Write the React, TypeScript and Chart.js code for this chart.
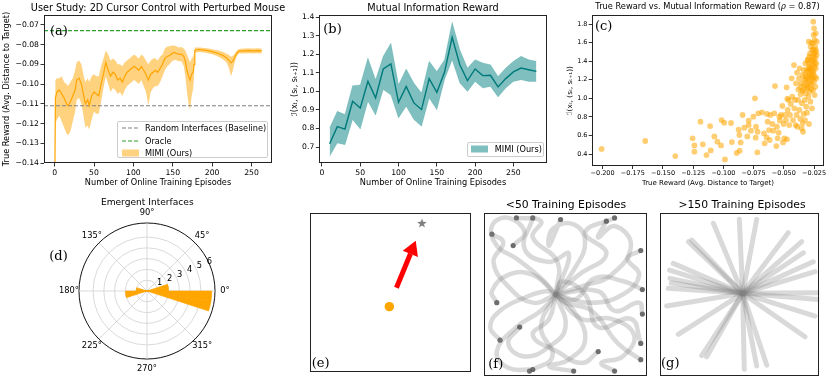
import React, { useEffect, useRef } from 'react';
import { Chart, registerables } from 'chart.js';

Chart.register(...registerables);
Chart.defaults.font.family = "'DejaVu Sans', 'Noto Sans', sans-serif";
Chart.defaults.color = '#000';

// ---------------- (a) User study ----------------
const aEpisodes = [0, 1, 3, 6, 9, 12, 15, 17, 20, 23, 26, 28, 31, 34, 37, 39, 42, 44, 47, 50, 53, 56, 59, 62, 65, 68, 71, 74, 77, 80, 83, 86, 89, 92, 95, 98, 101, 104, 107, 110, 113, 116, 119, 122, 125, 128, 131, 134, 137, 140, 143, 146, 149, 152, 155, 158, 161, 164, 166, 168, 170, 172, 174, 176, 177, 178, 180, 184, 190, 196, 202, 208, 214, 218, 221, 224, 226, 228, 231, 234, 240, 246, 252, 258, 263];
const aMean = [-0.160, -0.107, -0.104, -0.103, -0.105, -0.107, -0.110, -0.111, -0.109, -0.106, -0.103, -0.098, -0.097, -0.100, -0.106, -0.110, -0.108, -0.111, -0.106, -0.104, -0.105, -0.106, -0.100, -0.095, -0.089, -0.093, -0.096, -0.094, -0.095, -0.098, -0.097, -0.099, -0.096, -0.094, -0.093, -0.092, -0.091, -0.092, -0.093, -0.091, -0.093, -0.095, -0.098, -0.095, -0.094, -0.093, -0.094, -0.092, -0.090, -0.087, -0.086, -0.0855, -0.0845, -0.084, -0.0845, -0.085, -0.0848, -0.086, -0.0885, -0.093, -0.096, -0.098, -0.095, -0.0936, -0.090, -0.0828, -0.0826, -0.0825, -0.0828, -0.0832, -0.0838, -0.0845, -0.0856, -0.0866, -0.0878, -0.0893, -0.0885, -0.087, -0.0845, -0.0833, -0.0832, -0.0831, -0.0832, -0.0831, -0.0832];
const aUpper = [-0.160, -0.098, -0.097, -0.097, -0.096, -0.099, -0.100, -0.101, -0.099, -0.097, -0.093, -0.089, -0.088, -0.090, -0.096, -0.099, -0.097, -0.099, -0.096, -0.095, -0.096, -0.096, -0.091, -0.087, -0.083, -0.085, -0.088, -0.087, -0.088, -0.090, -0.090, -0.091, -0.089, -0.088, -0.087, -0.086, -0.085, -0.086, -0.087, -0.085, -0.086, -0.088, -0.090, -0.088, -0.087, -0.087, -0.088, -0.086, -0.085, -0.082, -0.081, -0.0808, -0.0805, -0.0805, -0.081, -0.0815, -0.0812, -0.082, -0.083, -0.085, -0.087, -0.089, -0.087, -0.086, -0.084, -0.0815, -0.0815, -0.0815, -0.0817, -0.082, -0.0825, -0.083, -0.0838, -0.0845, -0.0852, -0.0862, -0.0858, -0.085, -0.0832, -0.0822, -0.082, -0.0819, -0.082, -0.0819, -0.082];
const aLower = [-0.160, -0.120, -0.118, -0.116, -0.119, -0.122, -0.125, -0.126, -0.124, -0.119, -0.114, -0.108, -0.107, -0.110, -0.117, -0.122, -0.121, -0.123, -0.118, -0.114, -0.115, -0.115, -0.109, -0.102, -0.096, -0.100, -0.104, -0.102, -0.103, -0.105, -0.104, -0.106, -0.103, -0.101, -0.100, -0.099, -0.098, -0.099, -0.100, -0.098, -0.101, -0.104, -0.111, -0.104, -0.102, -0.101, -0.101, -0.099, -0.096, -0.093, -0.091, -0.090, -0.0885, -0.0878, -0.088, -0.0885, -0.0885, -0.091, -0.096, -0.104, -0.110, -0.113, -0.106, -0.102, -0.097, -0.0842, -0.084, -0.0838, -0.084, -0.0845, -0.0852, -0.0862, -0.0876, -0.089, -0.0915, -0.096, -0.0935, -0.090, -0.086, -0.0845, -0.0845, -0.0844, -0.0845, -0.0844, -0.0845];
const aRandomBaseline = -0.111;
const aOracle = -0.0729;
const aXRange = [-13.5, 276];
const aYRange = [-0.14, -0.065];
const aXTicks = [0, 50, 100, 150, 200, 250];
const aYTicks = [-0.14, -0.13, -0.12, -0.11, -0.10, -0.09, -0.08, -0.07];

// ---------------- (b) Mutual information reward ----------------
const bEpisodes = [10, 20, 30, 40, 50, 60, 70, 80, 90, 100, 110, 120, 130, 140, 150, 160, 170, 180, 190, 200, 210, 220, 230, 240, 250, 260, 270, 280];
const bMean = [0.718, 0.81, 0.797, 0.947, 0.911, 1.055, 0.965, 1.121, 1.148, 0.941, 1.027, 0.938, 0.902, 1.069, 0.995, 1.103, 1.292, 1.144, 1.058, 1.121, 1.085, 1.087, 1.024, 1.069, 1.105, 1.126, 1.117, 1.108];
const bUpper = [0.803, 0.893, 0.875, 1.031, 1.035, 1.18, 1.063, 1.19, 1.26, 1.036, 1.121, 1.045, 0.991, 1.162, 1.108, 1.171, 1.373, 1.225, 1.126, 1.171, 1.153, 1.144, 1.081, 1.126, 1.162, 1.19, 1.171, 1.162];
const bLower = [0.650, 0.722, 0.713, 0.848, 0.797, 0.947, 0.873, 1.01, 0.98, 0.857, 0.92, 0.848, 0.812, 0.964, 0.901, 1.063, 1.171, 1.046, 1.0, 1.054, 1.018, 1.027, 0.97, 1.018, 1.054, 1.063, 1.054, 1.054];
const bXRange = [-3.5, 293.5];
const bYRange = [0.614, 1.412];
const bXTicks = [0, 50, 100, 150, 200, 250];
const bYTicks = [0.7, 0.8, 0.9, 1.0, 1.1, 1.2, 1.3, 1.4];

// ---------------- (c) True reward vs MI reward ----------------
const cTrueReward = [-0.2008, -0.1647, -0.1398, -0.1255, -0.124, -0.124, -0.119, -0.117, -0.114, -0.111, -0.1105, -0.1075, -0.105, -0.102, -0.1015, -0.0993, -0.0987, -0.0937, -0.093, -0.089, -0.0874, -0.0868, -0.0866, -0.0857, -0.0841, -0.0827, -0.0802, -0.0791, -0.0791, -0.0772, -0.0752, -0.0739, -0.0733, -0.073, -0.0719, -0.0717, -0.0711, -0.068, -0.0664, -0.0659, -0.0642, -0.0639, -0.0634, -0.0623, -0.0617, -0.0612, -0.0595, -0.0587, -0.0579, -0.0573, -0.0562, -0.0557, -0.0551, -0.0543, -0.0537, -0.0532, -0.0523, -0.0512, -0.0507, -0.0501, -0.0496, -0.049, -0.0482, -0.0477, -0.0474, -0.0471, -0.0468, -0.046, -0.0455, -0.0449, -0.0443, -0.0435, -0.043, -0.0424, -0.0416, -0.0413, -0.0408, -0.0402, -0.04, -0.0394, -0.0391, -0.0388, -0.0383, -0.038, -0.0374, -0.0372, -0.0369, -0.0363, -0.0361, -0.0358, -0.0352, -0.035, -0.0347, -0.0344, -0.0341, -0.0339, -0.0336, -0.0333, -0.033, -0.0327, -0.0325, -0.0322, -0.0319, -0.0316, -0.0314, -0.0311, -0.0308, -0.0305, -0.0303, -0.03, -0.0297, -0.0294, -0.0294, -0.0292, -0.0289, -0.0286, -0.0283, -0.028, -0.028, -0.0278, -0.0275, -0.0272, -0.0269, -0.0267, -0.0267, -0.0264, -0.0261, -0.0261, -0.0258, -0.0258, -0.0256, -0.0256, -0.0253, -0.0253, -0.025, -0.025, -0.0247, -0.0247, -0.0245, -0.0245, -0.0242, -0.0242, -0.0239, -0.0239, -0.0236, -0.0236, -0.0234, -0.0231, -0.0231, -0.0228, -0.0228, -0.0297, -0.0289, -0.0278, -0.0269, -0.0261, -0.025, -0.0283, -0.0275, -0.0286, -0.0297, -0.0305, -0.0319, -0.0333, -0.0347, -0.0361, -0.0244, -0.0236, -0.0253, -0.0258, -0.0264, -0.0272, -0.0283, -0.0294, -0.03, -0.0311, -0.0322];
const cMIReward = [0.454, 0.54, 0.378, 0.569, 0.493, 0.425, 0.748, 0.504, 0.389, 0.701, 0.439, 0.59, 0.533, 0.493, 0.766, 0.737, 0.342, 0.734, 0.529, 0.411, 0.662, 0.605, 0.436, 0.525, 0.82, 0.684, 0.59, 0.759, 0.712, 0.651, 0.802, 1.0, 0.576, 0.694, 0.418, 0.64, 0.838, 0.849, 0.622, 0.515, 0.579, 0.831, 0.748, 0.658, 0.551, 0.82, 0.723, 0.651, 0.838, 1.132, 0.486, 0.694, 0.569, 0.629, 0.802, 0.759, 0.82, 0.917, 0.525, 0.723, 0.569, 0.82, 0.766, 1.118, 0.558, 0.996, 0.874, 0.982, 0.712, 0.82, 0.938, 1.215, 1.017, 0.766, 1.358, 0.892, 0.982, 0.712, 1.161, 0.82, 1.276, 0.694, 0.982, 1.096, 1.215, 0.874, 1.323, 0.777, 1.043, 1.161, 0.676, 0.946, 1.251, 0.73, 0.64, 1.089, 0.831, 1.305, 1.197, 0.982, 0.766, 1.376, 1.053, 1.143, 0.91, 1.233, 0.845, 1.107, 1.412, 1.287, 1.017, 1.61, 1.179, 0.723, 1.341, 1.071, 1.484, 1.233, 0.964, 1.556, 1.394, 1.143, 1.305, 1.448, 0.892, 1.197, 1.592, 1.359, 1.089, 1.52, 1.825, 1.269, 1.682, 1.412, 1.753, 1.179, 1.484, 1.341, 1.628, 1.035, 1.556, 1.233, 1.43, 1.125, 1.7, 1.323, 1.502, 1.376, 1.215, 1.61, 1.466, 1.38, 1.45, 1.33, 1.25, 1.41, 1.46, 1.16, 1.1, 1.25, 1.21, 1.12, 1.2, 1.14, 1.08, 1.12, 1.38, 1.52, 1.29, 1.22, 1.52, 1.6, 1.3, 1.32, 1.42, 1.3, 1.25];
const cXRange = [-0.209, -0.0165];
const cYRange = [0.271, 1.897];
const cXTicks = [-0.2, -0.175, -0.15, -0.125, -0.1, -0.075, -0.05, -0.025];
const cYTicks = [0.4, 0.6, 0.8, 1.0, 1.2, 1.4, 1.6, 1.8];

// ---------------- (d) Emergent interfaces (rose) ----------------
const dBinWidthDeg = 18;
const dBinCounts = [2, 0, 0, 0, 0, 0, 0, 0, 0, 1, 2, 0, 0, 0, 0, 0, 0, 0, 0, 6];
const dSegDeg = 9;
const dRMax = 6.3;
const dRadialTicks = [1, 2, 3, 4, 5, 6];
const dAngleTicks = [0, 45, 90, 135, 180, 225, 270, 315];

// ---------------- (e) task sketch ----------------
const eTarget = { x: 0.698, y: 0.937 };
const eCursor = { x: 0.496, y: 0.409 };
const eArrowStart = { x: 0.54, y: 0.528 };
const eArrowShaftEnd = { x: 0.627, y: 0.743 };
const eArrowHead = { x: 0.6375, y: 0.77 };
const eArrowAngleDeg = 22.5;

// ---------------- (f) trajectories <50 episodes ----------------
const fPaths = [
  [[0.44, 0.5], [0.35, 0.6], [0.2, 0.72], [0.08, 0.8], [0.05, 0.92], [0.15, 0.97], [0.25, 0.88], [0.18, 0.8]],
  [[0.44, 0.5], [0.3, 0.45], [0.15, 0.55], [0.06, 0.7], [0.12, 0.82], [0.05, 0.87]],
  [[0.44, 0.5], [0.55, 0.65], [0.62, 0.82], [0.55, 0.93], [0.42, 0.9], [0.4, 0.8], [0.47, 0.96]],
  [[0.44, 0.5], [0.6, 0.55], [0.78, 0.62], [0.9, 0.8], [0.8, 0.92], [0.7, 0.85], [0.75, 0.95]],
  [[0.44, 0.5], [0.65, 0.45], [0.85, 0.5], [0.95, 0.62], [0.88, 0.72], [0.96, 0.77]],
  [[0.44, 0.5], [0.6, 0.35], [0.78, 0.35], [0.92, 0.25], [0.85, 0.12], [0.72, 0.08], [0.8, 0.03]],
  [[0.44, 0.5], [0.5, 0.3], [0.4, 0.18], [0.25, 0.12], [0.15, 0.2], [0.22, 0.3]],
  [[0.44, 0.5], [0.35, 0.4], [0.2, 0.3], [0.08, 0.15], [0.15, 0.05], [0.3, 0.04]],
  [[0.44, 0.5], [0.55, 0.4], [0.62, 0.22], [0.52, 0.1], [0.4, 0.06], [0.55, 0.03]],
  [[0.44, 0.5], [0.45, 0.7], [0.3, 0.85], [0.35, 0.95], [0.2, 0.97]],
  [[0.44, 0.5], [0.7, 0.52], [0.8, 0.4], [0.95, 0.45], [0.97, 0.38]],
  [[0.44, 0.5], [0.38, 0.52], [0.25, 0.48], [0.1, 0.4], [0.04, 0.3], [0.1, 0.22]],
  [[0.44, 0.5], [0.58, 0.62], [0.75, 0.75], [0.62, 0.88], [0.8, 0.97]],
  [[0.44, 0.5], [0.4, 0.35], [0.3, 0.25], [0.45, 0.15], [0.6, 0.08], [0.7, 0.15]],
  [[0.44, 0.5], [0.48, 0.58], [0.62, 0.5], [0.7, 0.3], [0.9, 0.35], [0.96, 0.2]],
  [[0.44, 0.5], [0.3, 0.62], [0.15, 0.62], [0.05, 0.52], [0.08, 0.45]],
  [[0.44, 0.5], [0.52, 0.75], [0.4, 0.7], [0.25, 0.78], [0.3, 0.97]],
  [[0.44, 0.5], [0.35, 0.3], [0.42, 0.12], [0.28, 0.03]],
  [[0.44, 0.5], [0.56, 0.47], [0.68, 0.6], [0.86, 0.58], [0.97, 0.53]],
  [[0.44, 0.5], [0.5, 0.45], [0.66, 0.4], [0.82, 0.2], [0.96, 0.1]],
];

// ---------------- (g) trajectories >150 episodes ----------------
const gStart = [0.519, 0.507];
const gEnds = [
  [0.498, 0.961], [0.607, 0.961], [0.335, 0.937], [0.805, 0.879], [0.89, 0.824], [0.9, 0.756],
  [0.962, 0.701], [0.973, 0.64], [0.994, 0.511], [0.994, 0.47], [0.973, 0.368], [0.91, 0.241],
  [0.67, 0.067], [0.607, 0.061], [0.529, 0.041], [0.293, 0.118], [0.262, 0.125], [0.115, 0.256],
  [0.042, 0.429], [0.052, 0.538], [0.063, 0.599], [0.083, 0.691], [0.178, 0.824], [0.199, 0.834],
  [0.06, 0.65], [0.07, 0.57],
];

// ---------------- helpers ----------------
const fmt = (v: number, d: number) => v.toFixed(d).replace('-', '\u2212');

const framePlugin = {
  id: 'frame',
  afterDatasetsDraw(chart: any) {
    const { ctx, chartArea: a } = chart;
    ctx.save();
    ctx.strokeStyle = '#222';
    ctx.lineWidth = 1;
    const l = Math.round(a.left) + 0.5, t = Math.round(a.top) + 0.5;
    const r = Math.round(a.right) - 0.5, b = Math.round(a.bottom) - 0.5;
    ctx.strokeRect(l, t, r - l, b - t);
    ctx.restore();
  },
};

function xAxis(o: any) {
  return {
    type: 'linear', position: 'bottom', min: o.min, max: o.max,
    afterBuildTicks: (s: any) => { s.ticks = o.ticks.map((value: number) => ({ value })); },
    afterFit: (s: any) => { s.height = o.size; },
    ticks: { autoSkip: false, maxRotation: 0, padding: o.tickPad, font: { size: o.tickFont }, color: '#000', callback: (v: any) => fmt(Number(v), o.dec) },
    grid: { display: true, drawOnChartArea: false, drawTicks: true, tickLength: o.tickLen, tickColor: '#000', tickWidth: 0.8 },
    border: { display: false },
    title: { display: true, text: o.title, color: '#000', font: { size: o.titleFont }, padding: { top: 0, bottom: o.titlePad } },
  };
}
function yAxis(o: any) {
  return {
    type: 'linear', position: 'left', min: o.min, max: o.max,
    afterBuildTicks: (s: any) => { s.ticks = o.ticks.map((value: number) => ({ value })); },
    afterFit: (s: any) => { s.width = o.size; },
    ticks: { autoSkip: false, padding: o.tickPad, font: { size: o.tickFont }, color: '#000', callback: (v: any) => fmt(Number(v), o.dec) },
    grid: { display: true, drawOnChartArea: false, drawTicks: true, tickLength: o.tickLen, tickColor: '#000', tickWidth: 0.8 },
    border: { display: false },
    title: { display: true, text: o.title, color: '#000', font: { size: o.titleFont }, padding: { top: o.titlePad, bottom: 0 } },
  };
}
const baseOpts = { responsive: false, animation: false, events: [] as any[] };
const noPlug = { legend: { display: false }, tooltip: { enabled: false } };

function makeA() {
  const pts = (ys: number[]) => aEpisodes.map((x, i) => ({ x, y: ys[i] }));
  const hline = (y: number) => [{ x: aXRange[0], y }, { x: aXRange[1], y }];
  return {
    type: 'line',
    data: {
      datasets: [
        { data: pts(aMean), borderColor: '#ffa500', borderWidth: 1.2, pointRadius: 0, fill: false },
        { data: hline(aRandomBaseline), borderColor: '#808080', borderDash: [4, 2], borderWidth: 1.2, pointRadius: 0, fill: false },
        { data: hline(aOracle), borderColor: '#2ca02c', borderDash: [4, 2], borderWidth: 1.2, pointRadius: 0, fill: false },
        { data: pts(aUpper), borderColor: 'rgba(0,0,0,0)', borderWidth: 0.01, pointRadius: 0, fill: '+1', backgroundColor: 'rgba(255,165,0,0.5)' },
        { data: pts(aLower), borderColor: 'rgba(0,0,0,0)', borderWidth: 0.01, pointRadius: 0, fill: false },
      ],
    },
    options: {
      ...baseOpts,
      layout: { padding: { top: 15, right: 5, left: 0, bottom: 0 } },
      plugins: noPlug,
      scales: {
        x: xAxis({ min: aXRange[0], max: aXRange[1], ticks: aXTicks, dec: 0, size: 37, tickPad: 1.6, tickLen: 3.5, tickFont: 7.7, title: 'Number of Online Training Episodes', titleFont: 8.2, titlePad: 12.4 }),
        y: yAxis({ min: aYRange[0], max: aYRange[1], ticks: aYTicks, dec: 2, size: 44, tickPad: 1.5, tickLen: 3.5, tickFont: 7.7, title: 'True Reward (Avg. Distance to Target)', titleFont: 8.2, titlePad: 1.8 }),
      },
    },
    plugins: [framePlugin],
  };
}

function makeB() {
  const pts = (ys: number[]) => bEpisodes.map((x, i) => ({ x, y: ys[i] }));
  return {
    type: 'line',
    data: {
      datasets: [
        { data: pts(bMean), borderColor: '#007a7a', borderWidth: 1.4, pointRadius: 0, fill: false, tension: 0 },
        { data: pts(bUpper), borderColor: 'rgba(0,128,128,0.3)', borderWidth: 0.6, pointRadius: 0, fill: '+1', backgroundColor: 'rgba(0,128,128,0.5)' },
        { data: pts(bLower), borderColor: 'rgba(0,128,128,0.3)', borderWidth: 0.6, pointRadius: 0, fill: false },
      ],
    },
    options: {
      ...baseOpts,
      layout: { padding: { top: 15, right: 5.3, left: 0, bottom: 0 } },
      plugins: noPlug,
      scales: {
        x: xAxis({ min: bXRange[0], max: bXRange[1], ticks: bXTicks, dec: 0, size: 37, tickPad: 1.6, tickLen: 3.5, tickFont: 7.7, title: 'Number of Online Training Episodes', titleFont: 8.2, titlePad: 12.4 }),
        y: yAxis({ min: bYRange[0], max: bYRange[1], ticks: bYTicks, dec: 1, size: 46.3, tickPad: 1.5, tickLen: 3.5, tickFont: 7.7, title: '\u2110(x\u209C, (s\u209C, s\u209C\u208A\u2081))', titleFont: 8, titlePad: 17.2 }),
      },
    },
    plugins: [framePlugin],
  };
}

function makeC() {
  return {
    type: 'scatter',
    data: {
      datasets: [{
        data: cTrueReward.map((x, i) => ({ x, y: cMIReward[i] })),
        pointRadius: 2.9, pointBackgroundColor: 'rgba(255,165,0,0.55)', pointBorderWidth: 0, pointBorderColor: 'rgba(0,0,0,0)',
      }],
    },
    options: {
      ...baseOpts,
      layout: { padding: { top: 15, right: 5.7, left: 0, bottom: 0 } },
      plugins: noPlug,
      scales: {
        x: xAxis({ min: cXRange[0], max: cXRange[1], ticks: cXTicks, dec: 3, size: 34, tickPad: 0.8, tickLen: 3, tickFont: 6.5, title: 'True Reward (Avg. Distance to Target)', titleFont: 7, titlePad: 12.5 }),
        y: yAxis({ min: cYRange[0], max: cYRange[1], ticks: cYTicks, dec: 1, size: 31.7, tickPad: 1.2, tickLen: 3, tickFont: 6.5, title: '\u2110(x\u209C, (s\u209C, s\u209C\u208A\u2081))', titleFont: 7.2, titlePad: 5.6 }),
      },
    },
    plugins: [framePlugin],
  };
}

const polarLabelsPlugin = {
  id: 'polarLabels',
  afterDraw(chart: any) {
    const s = chart.scales.r;
    const ctx = chart.ctx;
    ctx.save();
    ctx.fillStyle = '#000';
    ctx.font = "8.3px 'DejaVu Sans', sans-serif";
    ctx.textAlign = 'center';
    ctx.textBaseline = 'middle';
    dAngleTicks.forEach((deg) => {
      const idx = ((360 - deg) % 360) / dSegDeg;
      const p = s.getPointPosition(idx, s.drawingArea + 10);
      ctx.fillText(`${deg}\u00B0`, p.x, p.y);
    });
    ctx.textAlign = 'left';
    ctx.textBaseline = 'bottom';
    const a = (22.5 * Math.PI) / 180;
    dRadialTicks.forEach((v) => {
      const d = s.getDistanceFromCenterForValue(v);
      ctx.fillText(String(v), s.xCenter + d * Math.cos(a), s.yCenter - d * Math.sin(a));
    });
    ctx.restore();
  },
};

function makeD() {
  const nSeg = 360 / dSegDeg;
  const seg = Array.from({ length: nSeg }, (_, i) => i);
  const segData = seg.map((i) => dBinCounts[Math.floor((360 - dSegDeg * i - dSegDeg / 2) / dBinWidthDeg)]);
  const labels = seg.map((i) => `${(360 - dSegDeg * i) % 360}\u00B0`);
  return {
    type: 'polarArea',
    data: {
      labels,
      datasets: [{ data: segData, backgroundColor: '#ffa500', borderColor: '#ffa500', borderWidth: (c: any) => (c.raw > 0 ? 0.6 : 0) }],
    },
    options: {
      ...baseOpts,
      layout: { padding: { left: 39, top: 23, right: 215 - 39 - 137, bottom: 181 - 23 - 137 } },
      plugins: noPlug,
      scales: {
        r: {
          min: 0, max: dRMax, startAngle: 90,
          ticks: { display: false, stepSize: 1 },
          grid: {
            circular: true,
            color: (c: any) => (c.tick && c.tick.value >= dRMax - 1e-6 ? '#111' : '#d0d0d0'),
            lineWidth: (c: any) => (c.tick && c.tick.value >= dRMax - 1e-6 ? 1 : 0.8),
          },
          angleLines: { display: true, color: '#d0d0d0', lineWidth: (c: any) => (c.index % 5 === 0 ? 0.8 : 0) },
          pointLabels: { display: false },
        },
      },
    },
    plugins: [polarLabelsPlugin],
  };
}

function makeStar(size: number, color: string) {
  const c = document.createElement('canvas');
  c.width = size; c.height = size;
  const g = c.getContext('2d')!;
  const R = size / 2, r = R * 0.42;
  g.beginPath();
  for (let k = 0; k < 10; k++) {
    const rad = k % 2 === 0 ? R : r;
    const ang = -Math.PI / 2 + (k * Math.PI) / 5;
    const px = R + rad * Math.cos(ang), py = R + 0.5 + rad * Math.sin(ang);
    if (k === 0) g.moveTo(px, py); else g.lineTo(px, py);
  }
  g.closePath();
  g.fillStyle = color;
  g.fill();
  return c;
}

const hiddenScales = {
  x: { type: 'linear', min: 0, max: 1, display: false },
  y: { type: 'linear', min: 0, max: 1, display: false },
};

function makeE() {
  const star = makeStar(10, '#7f7f7f');
  return {
    type: 'scatter',
    data: {
      datasets: [
        { data: [eTarget], pointStyle: star, pointRadius: 5 },
        { data: [eArrowHead], pointStyle: 'triangle', pointRotation: eArrowAngleDeg, pointRadius: 9.5, pointBackgroundColor: '#ff0000', pointBorderWidth: 0, pointBorderColor: 'rgba(0,0,0,0)' },
        { data: [eArrowStart, eArrowShaftEnd], showLine: true, borderColor: '#ff0000', borderWidth: 5, borderCapStyle: 'butt', pointRadius: 0 },
        { data: [eCursor], pointRadius: 4.7, pointBackgroundColor: '#ffa500', pointBorderWidth: 0, pointBorderColor: 'rgba(0,0,0,0)' },
      ],
    },
    options: {
      ...baseOpts,
      layout: { padding: { left: 6, top: 13, right: 6, bottom: 5 } },
      plugins: noPlug,
      scales: hiddenScales,
    },
    plugins: [framePlugin],
  };
}

function makeF() {
  return {
    type: 'scatter',
    data: {
      datasets: fPaths.map((p) => ({
        data: p.map(([x, y]) => ({ x, y })),
        showLine: true, tension: 0.45,
        borderColor: 'rgba(128,128,128,0.3)', borderWidth: 4.5, borderCapStyle: 'round',
        pointRadius: p.map((_, i) => (i === p.length - 1 ? 2.6 : 0)),
        pointBackgroundColor: 'rgba(90,90,90,0.85)', pointBorderWidth: 0, pointBorderColor: 'rgba(0,0,0,0)',
      })),
    },
    options: {
      ...baseOpts,
      layout: { padding: { left: 5.7, top: 13, right: 5.7, bottom: 5 } },
      plugins: noPlug,
      scales: hiddenScales,
    },
    plugins: [framePlugin],
  };
}

function makeG() {
  return {
    type: 'scatter',
    data: {
      datasets: gEnds.map(([x, y]) => ({
        data: [{ x: gStart[0], y: gStart[1] }, { x, y }],
        showLine: true, borderColor: 'rgba(128,128,128,0.3)', borderWidth: 5, borderCapStyle: 'round', pointRadius: 0,
      })),
    },
    options: {
      ...baseOpts,
      layout: { padding: { left: 6, top: 13, right: 6.7, bottom: 5 } },
      plugins: noPlug,
      scales: hiddenScales,
    },
    plugins: [framePlugin],
  };
}

function ChartCanvas({ left, top, width, height, make }: { left: number; top: number; width: number; height: number; make: () => any }) {
  const ref = useRef<HTMLCanvasElement>(null);
  useEffect(() => {
    const chart = new Chart(ref.current as HTMLCanvasElement, make());
    return () => chart.destroy();
  }, []);
  return <canvas ref={ref} width={width} height={height} style={{ position: 'absolute', left, top, width, height }} />;
}

function Title({ cx, cy, size, children }: { cx: number; cy: number; size: number; children: any }) {
  return (
    <div style={{ position: 'absolute', left: cx - 200, width: 400, top: cy - size * 0.6, height: size * 1.2, lineHeight: `${size * 1.2}px`, fontSize: size, textAlign: 'center', whiteSpace: 'nowrap', color: '#000' }}>
      {children}
    </div>
  );
}

function Tag({ x, y, t }: { x: number; y: number; t: string }) {
  return <div style={{ position: 'absolute', left: x, top: y - 1, fontFamily: "'DejaVu Serif', serif", fontSize: 13, lineHeight: '13px', color: '#000' }}>{t}</div>;
}

function LegendRow({ cy, swatch, text }: { cy: number; swatch: any; text: string }) {
  return (
    <>
      <svg style={{ position: 'absolute', left: 3.5, top: cy - 4 }} width={17} height={8}>{swatch}</svg>
      <div style={{ position: 'absolute', left: 27, top: cy - 5, fontSize: 8.2, lineHeight: '10px', whiteSpace: 'nowrap' }}>{text}</div>
    </>
  );
}

export default function App() {
  return (
    <div style={{ position: 'absolute', left: 0, top: 0, width: 830, height: 381, overflow: 'hidden', background: '#fff', fontFamily: "'DejaVu Sans', 'Noto Sans', sans-serif" }}>
      <ChartCanvas left={0} top={0} width={277} height={200} make={makeA} />
      <ChartCanvas left={273} top={0} width={279} height={200} make={makeB} />
      <ChartCanvas left={560} top={0} width={270} height={200} make={makeC} />
      <ChartCanvas left={40} top={200} width={215} height={181} make={makeD} />
      <ChartCanvas left={300} top={200} width={180} height={181} make={makeE} />
      <ChartCanvas left={478} top={200} width={175} height={181} make={makeF} />
      <ChartCanvas left={654} top={200} width={172} height={181} make={makeG} />

      <Title cx={158} cy={7.5} size={9.7}>User Study: 2D Cursor Control with Perturbed Mouse</Title>
      <Title cx={433} cy={8} size={9.7}>Mutual Information Reward</Title>
      <Title cx={707.5} cy={6.7} size={8.25}>
        True Reward vs. Mutual Information Reward (<i style={{ fontFamily: "'DejaVu Serif', serif" }}>ρ</i> = 0.87)
      </Title>
      <Title cx={147.3} cy={202.3} size={9.1}>Emergent Interfaces</Title>
      <Title cx={566} cy={205} size={10.8}>&lt;50 Training Episodes</Title>
      <Title cx={742} cy={205} size={10.8}>&gt;150 Training Episodes</Title>

      <Tag x={50} y={25} t="(a)" />
      <Tag x={323.3} y={23.3} t="(b)" />
      <Tag x={595} y={20} t="(c)" />
      <Tag x={49.3} y={250} t="(d)" />
      <Tag x={311.7} y={356.7} t="(e)" />
      <Tag x={488.3} y={358} t="(f)" />
      <Tag x={661} y={356.7} t="(g)" />

      <div style={{ position: 'absolute', left: 117, top: 121, width: 151, height: 37, boxSizing: 'border-box', border: '1px solid #cccccc', borderRadius: 2, background: 'rgba(255,255,255,0.8)' }}>
        <LegendRow cy={6.2} text="Random Interfaces (Baseline)" swatch={<line x1={0} y1={4} x2={17} y2={4} stroke="#808080" strokeWidth={1.2} strokeDasharray="4 2" />} />
        <LegendRow cy={18.5} text="Oracle" swatch={<line x1={0} y1={4} x2={17} y2={4} stroke="#2ca02c" strokeWidth={1.2} strokeDasharray="4 2" />} />
        <LegendRow cy={30.8} text="MIMI (Ours)" swatch={<rect x={0} y={0.5} width={17} height={7} fill="rgba(255,165,0,0.5)" />} />
      </div>

      <div style={{ position: 'absolute', left: 466.7, top: 141.7, width: 77.3, height: 15, boxSizing: 'border-box', border: '1px solid #cccccc', borderRadius: 2, background: 'rgba(255,255,255,0.8)' }}>
        <LegendRow cy={6.8} text="MIMI (Ours)" swatch={<rect x={0} y={0.5} width={17} height={7} fill="rgba(0,128,128,0.5)" />} />
      </div>
    </div>
  );
}
